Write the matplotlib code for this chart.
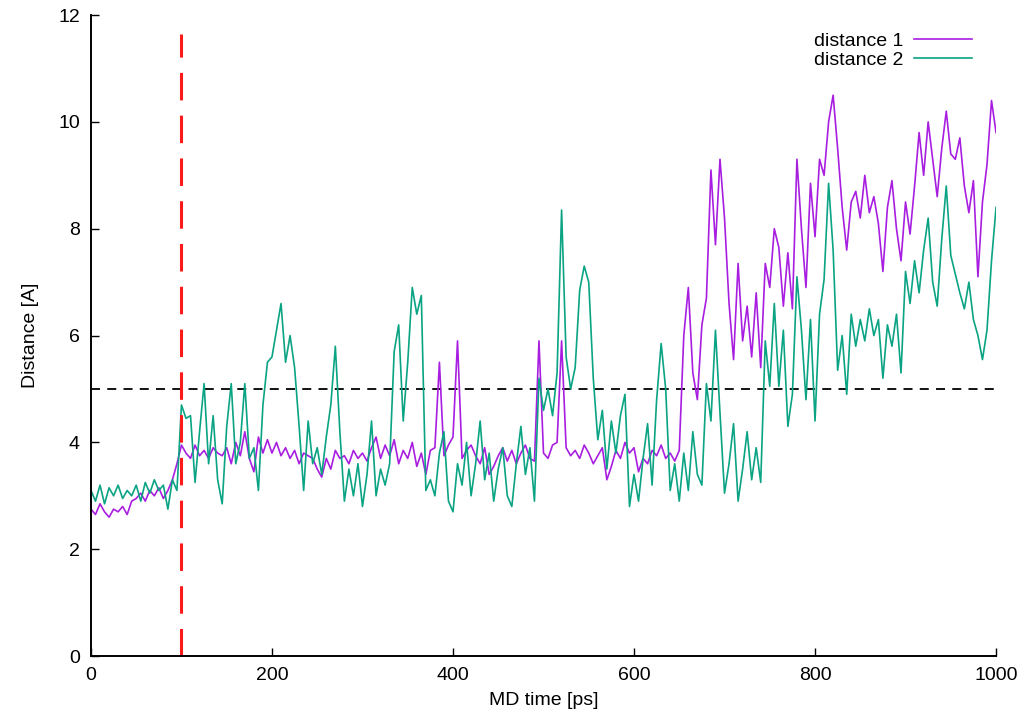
import numpy as np
import matplotlib.pyplot as plt

# MD time axis, one value every 5 ps
time_step = 5
time_ps = np.arange(0, 1001, time_step)

# distance 1 (5 ps spacing)
distance_1 = [
    2.75, 2.65, 2.85, 2.7, 2.6, 2.75, 2.7, 2.8, 2.65, 2.9,
    2.95, 3.05, 2.9, 3.1, 3.0, 3.15, 2.95, 3.1, 3.3, 3.6,
    3.95, 3.8, 3.7, 3.95, 3.75, 3.85, 3.7, 3.9, 3.8, 3.75,
    3.9, 3.6, 4.0, 3.75, 4.2, 3.7, 3.45, 4.1, 3.8, 4.05,
    3.8, 4.0, 3.75, 3.9, 3.7, 3.85, 3.6, 3.8, 3.75, 3.7,
    3.5, 3.35, 3.7, 3.5, 3.85, 3.7, 3.75, 3.6, 3.85, 3.7,
    3.8, 3.65, 3.9, 4.1, 3.7, 3.95, 3.75, 4.05, 3.6, 3.85,
    3.7, 4.0, 3.55, 3.8, 3.4, 3.85, 3.9, 5.5, 3.75, 3.95,
    4.1, 5.9, 3.7, 3.85, 3.95, 3.75, 3.6, 3.9, 3.4, 3.55,
    3.75, 3.9, 3.65, 3.85, 3.6, 3.8, 3.95, 3.7, 3.65, 5.9,
    3.8, 3.7, 3.95, 4.0, 5.9, 3.9, 3.75, 3.85, 3.7, 3.95,
    3.8, 3.6, 3.75, 3.9, 3.3, 3.55, 3.85, 3.7, 4.0, 3.8,
    3.9, 3.45, 3.7, 3.6, 3.85, 3.75, 3.95, 3.7, 3.8, 3.65,
    3.85, 6.0, 6.9, 5.3, 4.8, 6.2, 6.7, 9.1, 7.7, 9.3,
    8.2, 6.6, 5.55, 7.35, 5.9, 6.55, 5.6, 6.8, 5.4, 7.35,
    6.9, 8.0, 7.65, 6.55, 7.55, 6.5, 9.3, 8.0, 6.9, 8.85,
    7.85, 9.3, 9.0, 10.0, 10.5, 9.5, 8.4, 7.6, 8.5, 8.7,
    8.2, 9.0, 8.3, 8.6, 8.1, 7.2, 8.4, 8.9, 8.0, 7.4,
    8.5, 7.9, 8.8, 9.8, 9.0, 10.0, 9.3, 8.6, 9.5, 10.2,
    9.4, 9.3, 9.7, 8.8, 8.3, 8.9, 7.1, 8.5, 9.2, 10.4,
    9.8,
]

# distance 2
distance_2 = [
    3.1, 2.9, 3.2, 2.85, 3.15, 3.0, 3.2, 2.95, 3.1, 3.0,
    3.2, 2.9, 3.25, 3.05, 3.3, 3.1, 3.2, 2.75, 3.3, 3.1,
    4.7, 4.45, 4.5, 3.25, 4.2, 5.1, 3.6, 4.5, 3.3, 2.85,
    4.3, 5.1, 3.6, 4.0, 5.1, 3.7, 3.9, 3.1, 4.7, 5.5,
    5.6, 6.1, 6.6, 5.5, 6.0, 5.4, 4.3, 3.1, 4.4, 3.6,
    3.9, 3.4, 4.1, 4.7, 5.8, 4.2, 2.9, 3.5, 3.0, 3.6,
    2.8, 3.4, 4.4, 3.0, 3.5, 3.2, 3.6, 5.7, 6.2, 4.4,
    5.5, 6.9, 6.4, 6.75, 3.1, 3.3, 3.0, 3.8, 4.2, 2.9,
    2.7, 3.6, 3.2, 4.0, 3.0, 3.6, 4.4, 3.3, 3.8, 2.9,
    3.5, 3.9, 3.0, 2.8, 3.6, 4.3, 3.4, 3.9, 2.9, 5.2,
    4.6, 5.0, 4.5, 5.3, 8.35, 5.6, 5.0, 5.4, 6.85, 7.3,
    7.0, 5.2, 4.05, 4.6, 3.5, 4.4, 3.8, 4.5, 4.9, 2.8,
    3.4, 2.9, 3.7, 4.35, 3.2, 4.8, 5.85, 5.0, 3.1, 3.6,
    2.9, 3.8, 3.1, 4.2, 3.4, 3.2, 5.1, 4.4, 6.1, 4.55,
    3.05, 3.6, 4.35, 2.9, 3.5, 4.2, 3.3, 3.9, 3.25, 5.9,
    5.05, 6.6, 5.05, 6.1, 4.3, 4.9, 7.1, 6.1, 4.8, 6.3,
    4.4, 6.4, 7.05, 8.85, 7.6, 5.35, 6.0, 4.9, 6.4, 5.8,
    6.3, 5.9, 6.5, 6.0, 6.3, 5.2, 6.2, 5.8, 6.4, 5.3,
    7.2, 6.6, 7.4, 6.8, 7.6, 8.2, 7.0, 6.55, 7.8, 8.8,
    7.5, 7.15, 6.8, 6.5, 7.0, 6.3, 6.0, 5.55, 6.1, 7.4,
    8.4,
]

labels = ["distance 1", "distance 2"]
colors = ["#a81ee0", "#0aa383"]
cutoff = 5.0          # horizontal dashed line
equil_time = 100      # red dashed line

plt.rcParams['font.family'] = ['Liberation Sans', 'DejaVu Sans']

fig = plt.figure(figsize=(10.22, 7.17), dpi=100)
ax = fig.add_axes([0.089, 0.085, 0.8856, 0.894])

for d, lab, c in zip([distance_1, distance_2], labels, colors):
    ax.plot(time_ps, d, color=c, lw=1.2, label=lab)

ax.axhline(cutoff, color='black', lw=1.3, ls=(0, (5, 4)), zorder=1)
ax.axvline(equil_time, ymax=0.97, color='#ff1a1a', lw=2.2, ls=(0, (9, 5)))

ax.set_xlim(0, 1000)
ax.set_ylim(0, 12)
ax.set_xticks(range(0, 1001, 200))
ax.set_yticks(range(0, 13, 2))
ax.tick_params(direction='in', length=6, width=1, labelsize=14, pad=8)
for s in ['top', 'right']:
    ax.spines[s].set_visible(False)
for s in ['left', 'bottom']:
    ax.spines[s].set_linewidth(1.4)

ax.set_xlabel("MD time [ps]", fontsize=14, labelpad=6)
ax.set_ylabel("Distance [A]", fontsize=14, labelpad=14)

ax.legend(loc='upper right', bbox_to_anchor=(0.982, 0.985), frameon=False,
          markerfirst=False, fontsize=14, handlelength=3.0,
          handletextpad=0.55, labelspacing=0.05, borderaxespad=0)

fig.savefig("out.png", dpi=100)
